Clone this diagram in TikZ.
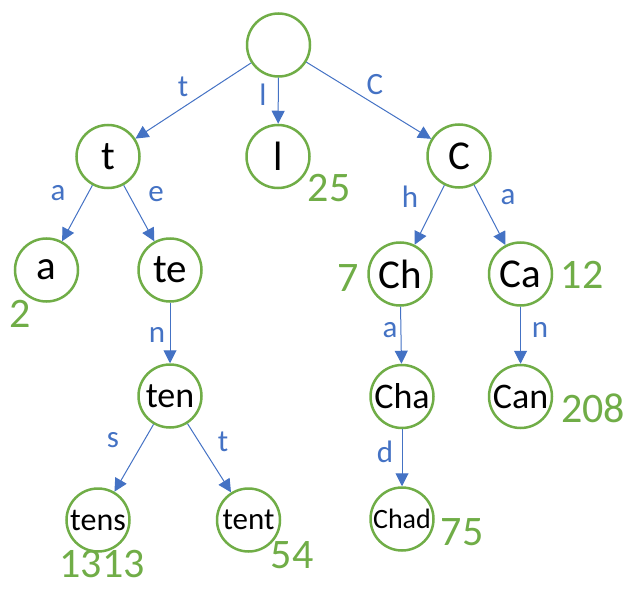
\documentclass[tikz,border=0pt]{standalone}
\usepackage{fontspec}
\setmainfont{Carlito}
\usetikzlibrary{arrows.meta}
\definecolor{nodegreen}{RGB}{112,173,71}
\definecolor{edgeblue}{RGB}{68,114,196}
\begin{document}
\begin{tikzpicture}[x=1pt,y=-1pt,
  trie/.style={circle,draw=nodegreen,line width=2.5pt,minimum size=63pt,inner sep=0pt,font=\fontsize{41}{41}\selectfont},
  link/.style={draw=edgeblue,line width=1pt,-{Triangle[length=13pt,width=13pt]}},
  lbl/.style={text=edgeblue,font=\fontsize{31}{31}\selectfont,inner sep=0pt},
  cnt/.style={text=nodegreen,font=\fontsize{42}{42}\selectfont,inner sep=0pt}]
\useasboundingbox (0,0) rectangle (628,588);
\node[trie] (root) at (278.5,45) {};
\node[trie] (t) at (108,156.5) {t};
\node[trie] (l) at (278,156.5) {l};
\node[trie] (C) at (459,156) {C};
\node[trie] (a) at (46.5,270) {a};
\node[trie] (te) at (170,270) {te};
\node[trie] (Ch) at (400,274) {Ch};
\node[trie] (Ca) at (520.5,274) {Ca};
\node[trie,font=\fontsize{36}{36}\selectfont] (ten) at (170,396) {ten};
\node[trie,font=\fontsize{36}{36}\selectfont] (Cha) at (402,396.5) {Cha};
\node[trie,font=\fontsize{36}{36}\selectfont] (Can) at (520.5,396.5) {Can};
\node[trie,font=\fontsize{32}{32}\selectfont] (tens) at (98,520) {tens};
\node[trie,font=\fontsize{31}{31}\selectfont] (tent) at (248.5,520) {tent};
\node[trie,font=\fontsize{28}{28}\selectfont] (Chad) at (402,519) {Chad};

\draw[link] (root) -- (t);
\draw[link] (root) -- (l);
\draw[link] (root) -- (C);
\draw[link] (t) -- (a);
\draw[link] (t) -- (te);
\draw[link] (te) -- (ten);
\draw[link] (ten) -- (tens);
\draw[link] (ten) -- (tent);
\draw[link] (C) -- (Ch);
\draw[link] (C) -- (Ca);
\draw[link] (Ch) -- (Cha);
\draw[link] (Cha) -- (Chad);
\draw[link] (Ca) -- (Can);

\node[lbl] (lt) at (183,87) {t};
\node[lbl] (ll) at (263,95) {l};
\node[lbl] (lC) at (375,85) {C};
\node[lbl] (la) at (58,193) {a};
\node[lbl] (le) at (156,194) {e};
\node[lbl] (lh) at (410,197) {h};
\node[lbl] (lCa) at (508,197) {a};
\node[lbl] (ln) at (157,335) {n};
\node[lbl] (lCha) at (390,330) {a};
\node[lbl] (lCan) at (540,330) {n};
\node[lbl] (ls) at (113,440) {s};
\node[lbl] (ltt) at (223,442) {t};
\node[lbl] (ld) at (385,452) {d};

\node[cnt] (n25) at (329,188) {25};
\node[cnt] (n2) at (20,314) {2};
\node[cnt] (n7) at (348,278) {7};
\node[cnt] (n12) at (582,275) {12};
\node[cnt] (n208) at (593,408) {208};
\node[cnt] (n75) at (462,532) {75};
\node[cnt] (n1313) at (102,564) {1313};
\node[cnt] (n54) at (292,555) {54};
\end{tikzpicture}
\end{document}
